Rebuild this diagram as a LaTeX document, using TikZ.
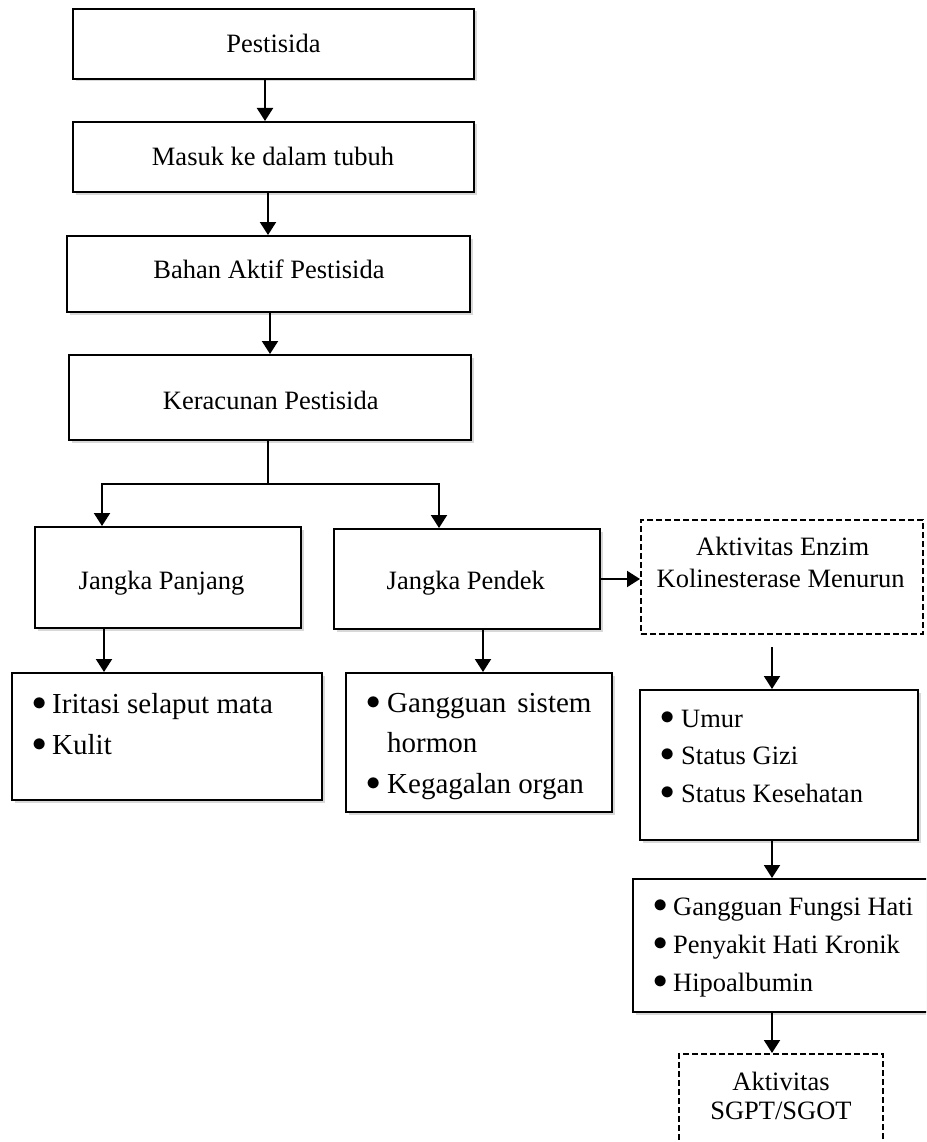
\documentclass[tikz,border=0pt]{standalone}
\usepackage{fontspec}
\setmainfont{Liberation Serif}
\usetikzlibrary{arrows.meta,shadows}
\tikzset{
  box/.style={draw, line width=2pt, fill=white, inner sep=0pt,
    drop shadow={shadow xshift=2.5pt, shadow yshift=-2.5pt, opacity=0.3}},
  dbox/.style={draw, line width=2pt, dash pattern=on 6pt off 3pt, fill=white, inner sep=0pt},
  arr/.style={line width=2pt, -{Triangle[width=16pt,length=13pt]}},
  ln/.style={line width=2pt},
  mtxt/.style={anchor=base, inner sep=0pt, font=\fontsize{26.5}{30}\selectfont},
  btxt/.style={anchor=base west, inner sep=0pt, font=\fontsize{29}{34}\selectfont},
  rtxt/.style={anchor=base west, inner sep=0pt, font=\fontsize{26.5}{30}\selectfont},
}
\newcommand{\bul}[1][20pt]{\makebox[#1][l]{\raisebox{3pt}{\scalebox{1.15}{$\bullet$}}}}
\begin{document}
\begin{tikzpicture}[x=1pt,y=-1pt]
\useasboundingbox (0,0) rectangle (926,1142);
\clip (0,0) rectangle (926,1142);
\fill[white] (0,0) rectangle (926,1142);

% boxes
\node[box, minimum width=401pt, minimum height=70pt] (b1) at (273.5,44) {};
\node[box, minimum width=401pt, minimum height=70pt] (b2) at (273.5,157) {};
\node[box, minimum width=403pt, minimum height=76pt] (b3) at (268.5,274) {};
\node[box, minimum width=402pt, minimum height=85pt] (b4) at (270,397.5) {};
\node[box, minimum width=266pt, minimum height=101pt] (panjang) at (168,577.5) {};
\node[box, minimum width=266pt, minimum height=100pt] (pendek) at (467,579) {};
\node[dbox, minimum width=282pt, minimum height=114pt] (enzim) at (782,577) {};
\node[box, minimum width=310pt, minimum height=127pt] (irit) at (167,736.5) {};
\node[box, minimum width=266pt, minimum height=139pt] (gang) at (479,742.5) {};
\node[box, minimum width=278pt, minimum height=150pt] (umur) at (779,765) {};
\node[box, minimum width=301pt, minimum height=133pt] (fungsi) at (783.5,945.5) {};
\node[dbox, minimum width=204pt, minimum height=106pt] (sgpt) at (781,1107) {};

% texts
\node[mtxt] (t1) at (273.5,53) {Pestisida};
\node[mtxt] (t2) at (273,166) {Masuk ke dalam tubuh};
\node[mtxt] (t3) at (269,278) {Bahan Aktif Pestisida};
\node[mtxt] (t4) at (270.8,409) {Keracunan Pestisida};
\node[mtxt] (t5) at (161.5,589) {Jangka Panjang};
\node[mtxt] (t6) at (465.8,589) {Jangka Pendek};
\node[mtxt] (t7a) at (782.7,555) {Aktivitas Enzim};
\node[mtxt] (t7b) at (780.7,587) {Kolinesterase Menurun};

\node[btxt] (i1) at (32,713) {\bul Iritasi selaput mata};
\node[btxt] (i2) at (32,754) {\bul Kulit};

\node[btxt] (g1) at (366,712) {\bul[21pt]Gangguan\hspace{11pt}sistem};
\node[btxt] (g2) at (366,752.5) {\hspace*{21pt}hormon};
\node[btxt] (g3) at (366,793) {\bul[21pt]Kegagalan organ};

\node[rtxt] (u1) at (660.4,727) {\bul[20.6pt]Umur};
\node[rtxt] (u2) at (660.4,764) {\bul[20.6pt]Status Gizi};
\node[rtxt] (u3) at (660.4,802) {\bul[20.6pt]Status Kesehatan};

\node[rtxt] (f1) at (653.4,915) {\bul[19.6pt]Gangguan Fungsi Hati};
\node[rtxt] (f2) at (653.4,953) {\bul[19.6pt]Penyakit Hati Kronik};
\node[rtxt] (f3) at (653.4,991) {\bul[19.6pt]Hipoalbumin};

\node[mtxt] (s1) at (781,1090) {Aktivitas};
\node[mtxt] (s2) at (781,1119) {SGPT/SGOT};

% connectors
\draw[arr] ([xshift=-8.5pt]b1.south) -- ([xshift=-8.5pt]b2.north);
\draw[arr] ([xshift=-5.5pt]b2.south) -- ([xshift=-0.5pt]b3.north);
\draw[arr] ([xshift=1.5pt]b3.south) -- (b4.north);

\coordinate (split) at (268,484);
\draw[ln] ([xshift=-2pt]b4.south) -- (split);
\draw[arr] (split) -| ([xshift=-66pt]panjang.north);
\draw[arr] (split) -| ([xshift=-28pt]pendek.north);

\draw[arr] ([xshift=-64pt]panjang.south) -- ([xshift=-63pt]irit.north);
\draw[arr] ([xshift=16pt]pendek.south) -- ([xshift=4pt]gang.north);
\draw[arr] (pendek.east) -- (pendek.east -| enzim.west);

\coordinate (e0) at ([xshift=-10pt,yshift=-12pt]enzim.south);
\draw[arr] (e0) -- (e0 |- umur.north);
\coordinate (u0) at ([xshift=-7pt]umur.south);
\draw[arr] (u0) -- (u0 |- fungsi.north);
\coordinate (f0) at ([xshift=-11.5pt]fungsi.south);
\draw[arr] (f0) -- (f0 |- sgpt.north);
\end{tikzpicture}
\end{document}
